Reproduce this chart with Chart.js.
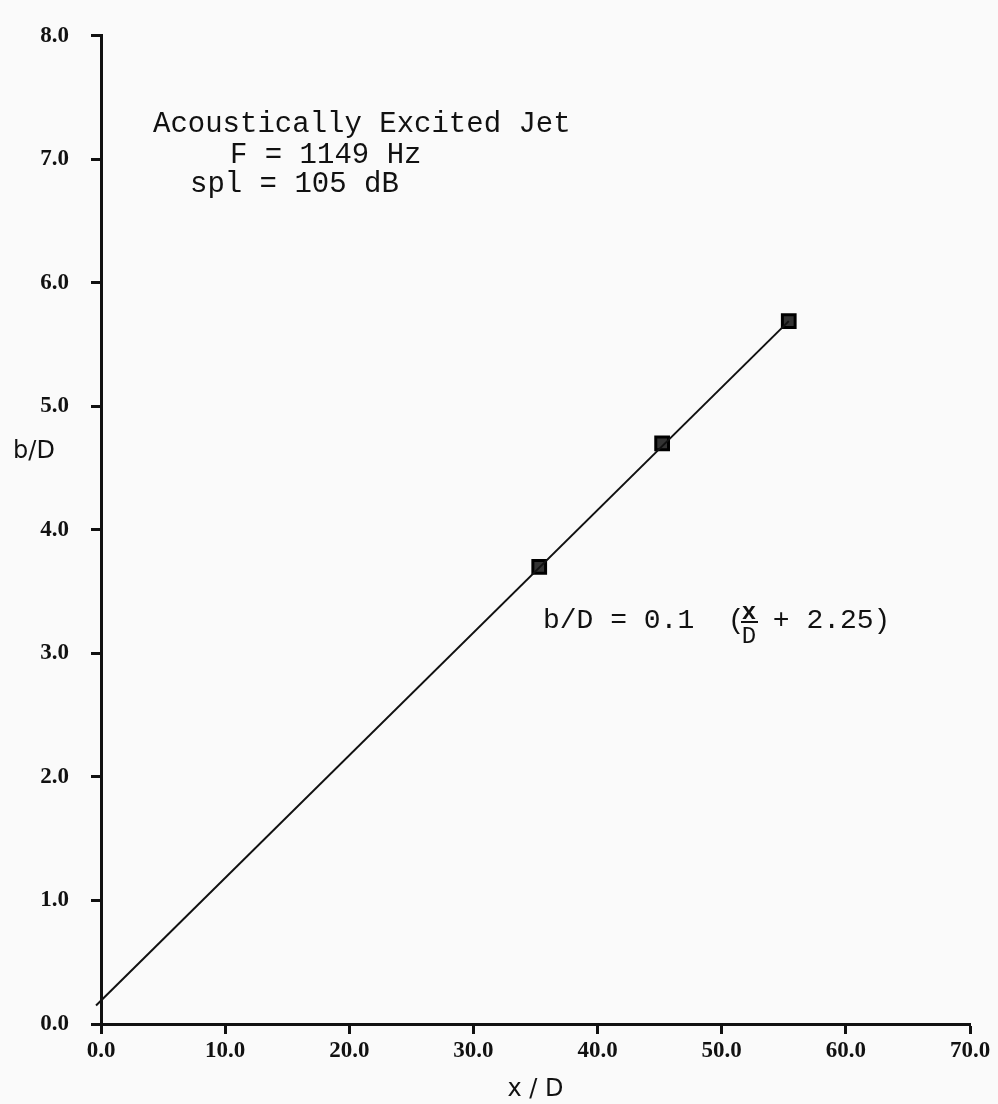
<!DOCTYPE html>
<html>
<head>
<meta charset="utf-8">
<script src="https://cdn.jsdelivr.net/npm/chart.js@4"></script>
<style>
    body { margin: 0; background: #fafafa; }
    #caja { width: 998px; height: 1104px; }
</style>
</head>
<body>
<div id="caja"><canvas id="grafico"></canvas></div>
<script>
// puntos medidos (x/D, b/D)
const xD = [35.3, 45.2, 55.4];
const bD = [3.70, 4.70, 5.69];

// recta de ajuste, extremos
const fitX = [-0.4, 55.4];
const fitY = [0.15, 5.69];

const xTicks = [0, 10, 20, 30, 40, 50, 60, 70];
const yTicks = [0, 1, 2, 3, 4, 5, 6, 7, 8];

const textoNota = ["Acoustically Excited Jet", "F = 1149 Hz", "spl = 105 dB"];

const tinta = "#111";
const fuenteTicks = { family: "Liberation Serif", size: 23, weight: "bold" };

// texto suelto: nota, ecuacion y titulo del eje y
const textos = {
    id: "textos",
    afterDraw(chart) {
        const ctx = chart.ctx;
        ctx.save();
        ctx.fillStyle = tinta;
        ctx.textBaseline = "alphabetic";
        ctx.textAlign = "left";

        ctx.font = "29px 'Liberation Mono'";
        ctx.fillText(textoNota[0], 153, 132);
        ctx.fillText(textoNota[1], 230, 163);
        ctx.fillText(textoNota[2], 190, 192);

        ctx.font = "28px 'Liberation Mono'";
        ctx.fillText("b/D = 0.1  (", 543, 628);
        ctx.fillText(" + 2.25)", 756, 628);
        ctx.font = "bold 24px 'Liberation Mono'";
        ctx.textAlign = "center";
        ctx.fillText("x", 749, 619);
        ctx.font = "24px 'Liberation Mono'";
        ctx.fillText("D", 749, 643);
        ctx.fillRect(741, 621, 17, 2);

        ctx.font = "24px 'DejaVu Sans'";
        ctx.textBaseline = "middle";
        ctx.fillText("b/D", 34, 452);
        ctx.restore();
    }
};

new Chart(document.getElementById("grafico"), {
    type: "scatter",
    data: {
        datasets: [
            {
                label: "ajuste",
                data: fitX.map((x, i) => ({ x: x, y: fitY[i] })),
                showLine: true,
                borderColor: tinta,
                borderWidth: 2,
                pointRadius: 0,
                clip: false
            },
            {
                label: "medidos",
                data: xD.map((x, i) => ({ x: x, y: bD[i] })),
                pointStyle: "rect",
                pointRadius: 9,
                backgroundColor: "#333",
                borderColor: "#000",
                borderWidth: 3
            }
        ]
    },
    options: {
        responsive: true,
        maintainAspectRatio: false,
        animation: false,
        layout: { padding: { left: 0, right: 28, top: 22, bottom: 0 } },
        plugins: {
            legend: { display: false },
            tooltip: { enabled: false }
        },
        scales: {
            x: {
                type: "linear",
                min: xTicks[0],
                max: xTicks[xTicks.length - 1],
                afterBuildTicks: (s) => { s.ticks = xTicks.map(v => ({ value: v })); },
                afterFit: (s) => { s.height = 80; },
                border: { display: true, color: tinta, width: 3 },
                grid: { drawOnChartArea: false, tickLength: 10, tickWidth: 3, color: tinta },
                ticks: {
                    color: tinta,
                    font: fuenteTicks,
                    padding: 3,
                    maxRotation: 0,
                    callback: (v) => v.toFixed(1)
                },
                title: {
                    display: true,
                    text: "x / D",
                    color: tinta,
                    font: { family: "DejaVu Sans", size: 24 },
                    padding: { top: 0, bottom: 0 }
                }
            },
            y: {
                type: "linear",
                min: yTicks[0],
                max: yTicks[yTicks.length - 1],
                afterBuildTicks: (s) => { s.ticks = yTicks.map(v => ({ value: v })); },
                afterFit: (s) => { s.width = 101; },
                border: { display: true, color: tinta, width: 3 },
                grid: { drawOnChartArea: false, tickLength: 10, tickWidth: 3, color: tinta },
                ticks: {
                    color: tinta,
                    font: fuenteTicks,
                    padding: 22,
                    callback: (v) => v.toFixed(1)
                }
            }
        }
    },
    plugins: [textos]
});
</script>
</body>
</html>
